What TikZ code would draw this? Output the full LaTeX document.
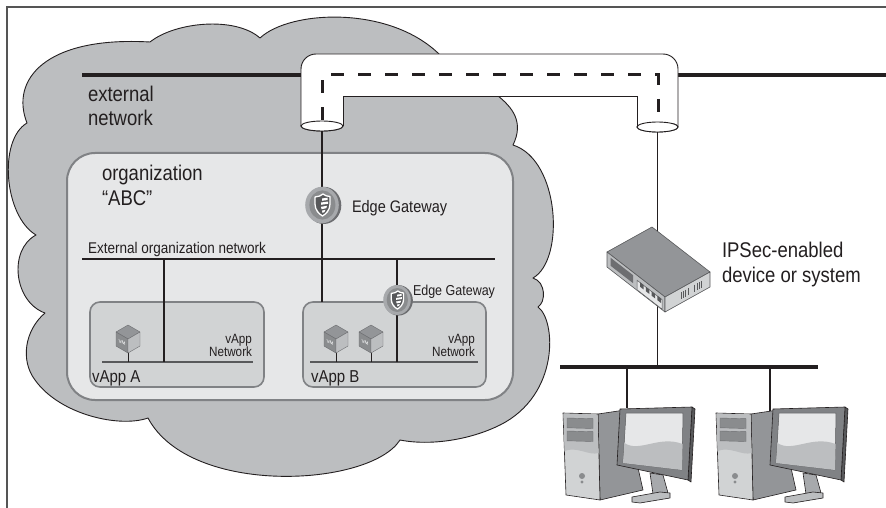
\documentclass[tikz,border=0pt]{standalone}
\usepackage{fontspec}
\setmainfont{Liberation Sans}
\usetikzlibrary{shapes.geometric}

\definecolor{ink}{HTML}{231F20}
\definecolor{cloudgray}{HTML}{BCBEC0}
\definecolor{orgfill}{HTML}{E6E7E8}
\definecolor{boxline}{HTML}{808285}
\definecolor{vappfill}{HTML}{D1D3D4}
\definecolor{g58}{HTML}{58595B}
\definecolor{g6d}{HTML}{6D6E71}
\definecolor{g8a}{HTML}{8A8C8E}
\definecolor{g93}{HTML}{939598}
\definecolor{ga7}{HTML}{A7A9AC}
\definecolor{gbc}{HTML}{BCBEC0}
\definecolor{gd1}{HTML}{D1D3D4}
\definecolor{ge6}{HTML}{E6E7E8}
\definecolor{framegray}{HTML}{555555}

\tikzset{
  lbl/.style={inner sep=0, outer sep=0, text=ink, anchor=base west, yscale=1.15},
  lblr/.style={inner sep=0, outer sep=0, text=ink, anchor=base east, yscale=1.15},
  bigtxt/.style={font=\fontsize{18.5}{22}\selectfont},
  gwtxt/.style={font=\fontsize{14.5}{17}\selectfont},
  netline/.style={line width=3.2, ink},
  link/.style={line width=1.9, ink},
  thinlink/.style={line width=1.3, ink},
  vnet/.style={line width=2, g58},
  orgbox/.style={draw=boxline, line width=2, fill=orgfill, rounded corners=28,
                 inner sep=0, outer sep=0},
  vappbox/.style={draw=boxline, line width=1.6, fill=vappfill, rounded corners=10,
                  inner sep=0, outer sep=0},
  pipeend/.style={ellipse, draw=ink, line width=0.9, fill=white, inner sep=0, outer sep=0},
  hook/.style={circle, inner sep=0, outer sep=0},
  % shield coin of an edge gateway
  gateway/.pic={
    \fill[g6d] (1.8,0.4) ellipse[x radius=17.5, y radius=18.6];
    \fill[ga7] (0,0) ellipse[x radius=16.8, y radius=18.2];
    \fill[g8a] (0.4,0) ellipse[x radius=13, y radius=14.6];
    \filldraw[fill=g58, draw=white, line width=1.3, line join=round]
      (-7,-8) .. controls (-3.5,-8) and (-1,-9.5) .. (1,-11)
      .. controls (3,-9.5) and (5,-8.5) .. (8,-8.5) -- (8,-1)
      .. controls (8,5) and (4,9) .. (0.5,11)
      .. controls (-3,9) and (-7,5) .. (-7,-1) -- cycle;
    \fill[white] (0,-6.5) -- (5.5,-7.3) -- (5.5,-5) -- (0,-4.2) -- cycle;
    \fill[white] (-1,-2.5) -- (6,-3.5) -- (6,-1.2) -- (-1,-0.2) -- cycle;
    \fill[white] (-1,1.8) -- (5,0.8) -- (4.3,3.2) -- (-0.5,4.2) -- cycle;
    \fill[white] (0,5.6) -- (3.5,4.8) -- (2.4,7.2) -- (0.5,7.8) -- cycle;
  },
  % virtual machine cube
  vmcube/.pic={
    \filldraw[fill=g93, draw=g6d, line width=0.4, line join=round]
      (0,-14) -- (12,-7) -- (0,0) -- (-12,-7) -- cycle;
    \filldraw[fill=g8a, draw=g6d, line width=0.4, line join=round]
      (-12,-7) -- (0,0) -- (0,14) -- (-12,7) -- cycle;
    \filldraw[fill=gbc, draw=g6d, line width=0.4, line join=round]
      (0,0) -- (12,-7) -- (12,7) -- (0,14) -- cycle;
    \node[inner sep=0, text=ge6, yslant=-0.58,
          font=\fontsize{4.6}{5}\selectfont\bfseries] at (-6,3.6) {VM};
  },
  % desktop computer: tower and monitor
  computer/.pic={
    \filldraw[fill=g93, draw=ink, line width=0.6, line join=round]
      (35,1) -- (62,-3) -- (80,77) -- (37,87) -- cycle;
    \filldraw[fill=gd1, draw=ink, line width=0.6, line join=round]
      (0,0) -- (35,1) -- (37,87) -- (3,82) -- cycle;
    \fill[gbc] (0.5,0.6) -- (34.5,1.6) -- (35.6,40)
      .. controls (26,43) and (14,33) .. (1.5,38) -- cycle;
    \filldraw[fill=g8a, draw=g6d, line width=0.4]
      (4,5) -- (30,5.7) -- (30,15.5) -- (4,14.8) -- cycle;
    \filldraw[fill=g8a, draw=g6d, line width=0.4]
      (4,18) -- (30,18.7) -- (30,28.5) -- (4,27.8) -- cycle;
    \fill[g8a] (19,63) circle[radius=3];
    \fill[g8a] (19,69) circle[radius=1.6];
    \filldraw[fill=ga7, draw=ink, line width=0.6, line join=round]
      (87,60) -- (100,62) -- (105,80) -- (90,81) -- cycle;
    \filldraw[fill=gbc, draw=ink, line width=0.6, line join=round]
      (69,84) -- (97,79) -- (107,80) -- (107,85) -- (77,90) -- (69,89) -- cycle;
    \filldraw[fill=g58, draw=ink, line width=0.6, line join=round]
      (129,-6) -- (132,-4) -- (128,69) -- (125,67) -- cycle;
    \filldraw[fill=boxline, draw=ink, line width=0.6, line join=round]
      (57,-4) -- (129,-6) -- (125,67) -- (54,52) -- cycle;
    \filldraw[fill=ge6, draw=g58, line width=0.5, line join=round]
      (63,0) -- (120,0) -- (119,57) -- (60,50) -- cycle;
    \fill[gbc] (61.5,30) .. controls (76,40) and (96,22) .. (119.6,31)
      -- (119,57) -- (60,50) -- cycle;
  },
}

\begin{document}
\begin{tikzpicture}[x=1pt, y=-1pt]
\useasboundingbox (0,0) rectangle (886,508);
\fill[white] (0,0) rectangle (886,508);

% page frame (top and left only)
\draw[framegray, line width=1.4] (7,508) -- (7,7) -- (886,7);

% the cloud
\filldraw[fill=cloudgray, draw=ink, line width=0.9, line join=round]
  (27,123) .. controls (10,80) and (45,36) .. (150,42)
  .. controls (175,22) and (235,16) .. (260,38)
  .. controls (290,10) and (390,5) .. (440,55)
  .. controls (470,85) and (535,100) .. (513,145)
  .. controls (560,160) and (565,260) .. (533,278)
  .. controls (546,282) and (546,302) .. (538,307)
  .. controls (556,320) and (560,395) .. (500,425)
  .. controls (470,440) and (430,446) .. (400,440)
  .. controls (370,487) and (190,497) .. (148,418)
  .. controls (120,428) and (60,415) .. (35,380)
  .. controls (20,360) and (25,330) .. (45,313)
  .. controls (14,302) and (8,250) .. (36,235)
  .. controls (4,216) and (-2,140) .. (27,123) -- cycle;

% organization and vApp containers
\node[orgbox, minimum width=446, minimum height=247] (org) at (290,276.5) {};
\node[vappbox, minimum width=174, minimum height=85] (vA) at (177,344.5) {};
\node[vappbox, minimum width=183, minimum height=85] (vB) at (394.5,344.5) {};

% network segments
\coordinate (xnL) at (82,75);   \coordinate (xnM) at (301,75);
\coordinate (xnN) at (678,75);  \coordinate (xnR) at (886,75);
\coordinate (eoL) at (82,259);  \coordinate (eoR) at (495,259);
\coordinate (vaL) at (102,362); \coordinate (vaR) at (253,362);
\coordinate (vbL) at (310,362); \coordinate (vbR) at (478,362);
\coordinate (lanL) at (560,367); \coordinate (lanR) at (818,367);
\coordinate (tapA) at (164,259);
\coordinate (tapG) at (397,259);
\coordinate (pc1) at (627,408);
\coordinate (pc2) at (770,413);

\draw[netline] (xnL) -- (xnM);
\draw[netline] (xnN) -- (xnR);
\draw[line width=2, ink] (eoL) -- (eoR);
\draw[vnet] (vaL) -- (vaR);
\draw[vnet] (vbL) -- (vbR);
\draw[netline] (lanL) -- (lanR);

% anchor nodes for the icons
\node[hook, minimum size=36] (gw1) at (322,205) {};
\node[hook, minimum size=30] (gw2) at (397,300) {};
\node[hook, minimum width=24, minimum height=28] (vm1) at (128,339) {};
\node[hook, minimum width=24, minimum height=28] (vm2) at (336,339) {};
\node[hook, minimum width=24, minimum height=28] (vm3) at (371,339) {};
\node[hook, minimum width=104, minimum height=86] (dev) at (658,270) {};

% tunnel ends
\node[pipeend, minimum width=42, minimum height=10] (pl) at (322,126) {};
\node[pipeend, minimum width=41, minimum height=10] (pr) at (657.5,127) {};

% links
\draw[thinlink] (pl.south) -- (gw1.north);
\draw[link] (gw1.south) -- (gw1 |- vB.north);
\draw[link] (tapA) -- (tapA |- vaL);
\draw[link] (tapG) -- (gw2.north);
\draw[link] (gw2.south) -- (gw2 |- vbL);
\draw[line width=0.9, ink] (vm1.south) -- (vm1 |- vaL);
\draw[line width=0.9, ink] (vm2.south) -- (vm2 |- vbL);
\draw[line width=0.9, ink] (vm3.south) -- (vm3 |- vbL);
\draw[link] (pr.south) -- (pr |- lanL);
\draw[link] (pc1 |- lanL) -- (pc1);
\draw[link] (pc2 |- lanL) -- (pc2);

% icons
\pic at (gw1) {gateway};
\pic[scale=0.82] at (gw2) {gateway};
\pic at (vm1) {vmcube};
\pic at (vm2) {vmcube};
\pic at (vm3) {vmcube};
\pic at (563,413) {computer};
\pic at (716,413) {computer};

% IPSec device
\filldraw[fill=g93, draw=g58, line width=0.6, line join=round]
  (607,252) -- (652,227) -- (710,272) -- (665,297) -- cycle;
\filldraw[fill=gbc, draw=g58, line width=0.6, line join=round]
  (607,252) -- (665,297) -- (665,312) -- (607,267) -- cycle;
\filldraw[fill=gd1, draw=g58, line width=0.6, line join=round]
  (665,297) -- (710,272) -- (710,287) -- (665,312) -- cycle;
\fill[g6d] (610.5,257.7) -- (633.1,275.2) -- (633.1,283.2) -- (610.5,265.7) -- cycle;
\filldraw[fill=ge6, draw=g58, line width=0.5]
  (637.2,280.4) -- (662.1,299.7) -- (662.1,309.2) -- (637.2,289.9) -- cycle;
\foreach \t in {0.60,0.70,0.80,0.90}{
  \fill[g58] ({607+58*\t-1.8},{252+45*\t+3.2}) -- ({607+58*\t+1.8},{252+45*\t+6})
    -- ({607+58*\t+1.8},{252+45*\t+10.5}) -- ({607+58*\t-1.8},{252+45*\t+7.7}) -- cycle;
}
\foreach \s in {0.36,0.41,0.46,0.51,0.66,0.71,0.76,0.81}{
  \draw[g58, line width=0.7] ({665+45*\s},{297-25*\s+4}) -- ({665+45*\s},{297-25*\s+11});
}

% VPN tunnel
\fill[white, rounded corners=15]
  (301,126) -- (301,54) -- (678,54) -- (678,127) [sharp corners]
  -- (637,127) -- (637,96) -- (343,96) -- (343,126) -- cycle;
\draw[ink, line width=0.9, rounded corners=15] (301,126) -- (301,54) -- (678,54) -- (678,127);
\draw[ink, line width=0.9] (343,126) -- (343,96) -- (637,96) -- (637,127);
\draw[ink, line width=3, dash pattern=on 13 off 14]
  (322,120) -- (322,75) -- (658,75) -- (658,122);
\node[pipeend, minimum width=42, minimum height=10] at (pl) {};
\node[pipeend, minimum width=41, minimum height=10] at (pr) {};

% labels
\node[lbl, bigtxt] (t1) at (88,102) {external};
\node[lbl, bigtxt] (t2) at (88,126) {network};
\node[lbl, bigtxt] (t3) at (102,180) {organization};
\node[lbl, bigtxt] (t4) at (102,205) {“ABC”};
\node[lbl, gwtxt] (t5) at (352,212) {Edge Gateway};
\node[lbl, font=\fontsize{13.5}{16}\selectfont] (t6) at (88,253) {External organization network};
\node[lbl, font=\fontsize{12.5}{15}\selectfont] (t7) at (413,295) {Edge Gateway};
\node[lblr, font=\fontsize{11.7}{14}\selectfont] (t8) at (252,343) {vApp};
\node[lblr, font=\fontsize{11.7}{14}\selectfont] (t9) at (252,356) {Network};
\node[lblr, font=\fontsize{11.7}{14}\selectfont] (t10) at (475,343) {vApp};
\node[lblr, font=\fontsize{11.7}{14}\selectfont] (t11) at (475,356) {Network};
\node[lbl, font=\fontsize{15}{18}\selectfont] (t12) at (92,382) {vApp A};
\node[lbl, font=\fontsize{15}{18}\selectfont] (t13) at (311,382) {vApp B};
\node[lbl, bigtxt] (t14) at (722,257) {IPSec-enabled};
\node[lbl, bigtxt] (t15) at (722,282) {device or system};
\end{tikzpicture}
\end{document}
